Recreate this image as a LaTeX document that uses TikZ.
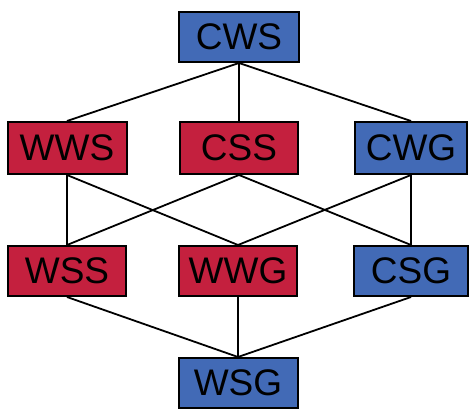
\documentclass[tikz,border=0pt]{standalone}
\usepackage{fontspec}
\setmainfont{Liberation Sans}
\definecolor{nblue}{RGB}{66,106,182}
\definecolor{nred}{RGB}{196,32,62}
\begin{document}
\begin{tikzpicture}[x=1pt,y=-1pt,
  box/.style={draw=black,line width=2pt,minimum height=50pt,inner sep=0pt,font=\fontsize{37}{40}\selectfont},
  bbox/.style={box,fill=nblue},
  rbox/.style={box,fill=nred},
  link/.style={line width=1.8pt}]
\useasboundingbox (0,0) rectangle (470,411);
\node[bbox,minimum width=120pt] (cws) at (239,37) {CWS};
\node[rbox,minimum width=119pt,minimum height=52pt] (wws) at (67,148) {WWS};
\node[rbox,minimum width=118pt,minimum height=52pt] (css) at (239,148) {CSS};
\node[bbox,minimum width=112pt,minimum height=52pt] (cwg) at (411,148) {CWG};
\node[rbox,minimum width=118pt] (wss) at (67,271) {WSS};
\node[rbox,minimum width=118pt] (wwg) at (238,271) {WWG};
\node[bbox,minimum width=114pt] (csg) at (411,271) {CSG};
\node[bbox,minimum width=119pt] (wsg) at (238,383) {WSG};
\draw[link] (cws.south) -- (wws.north);
\draw[link] (cws.south) -- (css.north);
\draw[link] (cws.south) -- (cwg.north);
\draw[link] (wws.south) -- (wss.north);
\draw[link] (wws.south) -- (wwg.north);
\draw[link] (css.south) -- (wss.north);
\draw[link] (css.south) -- (csg.north);
\draw[link] (cwg.south) -- (wwg.north);
\draw[link] (cwg.south) -- (csg.north);
\draw[link] (wss.south) -- (wsg.north);
\draw[link] (wwg.south) -- (wsg.north);
\draw[link] (csg.south) -- (wsg.north);
\end{tikzpicture}
\end{document}
